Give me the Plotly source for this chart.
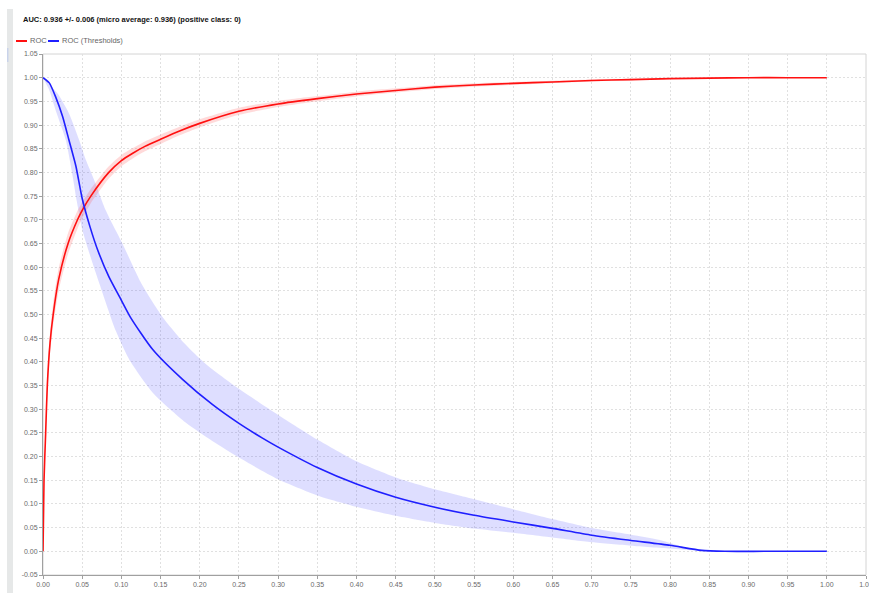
import plotly.graph_objects as go

# ROC curve (false positive rate -> true positive rate) with its spread
roc_fpr = [0, 0.0013, 0.0034, 0.0055, 0.009, 0.013, 0.02, 0.032, 0.044, 0.05, 0.061,
           0.084, 0.10, 0.114, 0.13, 0.15, 0.175, 0.199, 0.25, 0.30, 0.35, 0.40, 0.45, 0.50,
           0.55, 0.60, 0.65, 0.70, 0.75, 0.80, 0.85, 0.90, 0.95, 1.0]
roc_tpr = [0, 0.15, 0.25, 0.35, 0.44, 0.50, 0.574, 0.65, 0.70, 0.72, 0.75,
           0.80, 0.825, 0.84, 0.855, 0.87, 0.888, 0.903, 0.929, 0.9445, 0.9557, 0.9655, 0.973, 0.98,
           0.9845, 0.988, 0.991, 0.994, 0.996, 0.998, 0.999, 1.0, 1.0, 1.0]
roc_std = [0, 0.006, 0.012, 0.018, 0.022, 0.024, 0.024, 0.022, 0.019, 0.017, 0.015,
           0.013, 0.012, 0.011, 0.0105, 0.01, 0.009, 0.0085, 0.0075, 0.0065, 0.0055, 0.005, 0.0045, 0.004,
           0.0035, 0.003, 0.0025, 0.002, 0.0015, 0.001, 0.0005, 0, 0, 0]

# ROC (Thresholds) curve with its upper / lower spread edges
thr_x = [0, 0.008, 0.016, 0.025, 0.033, 0.042, 0.05, 0.06, 0.07, 0.084, 0.10, 0.112,
         0.14, 0.178, 0.216, 0.25, 0.28, 0.30, 0.35, 0.40, 0.45, 0.50, 0.55, 0.60, 0.65,
         0.70, 0.75, 0.80, 0.84, 0.87, 0.92, 1.0]
thr_y = [1.0, 0.989, 0.96, 0.918, 0.869, 0.813, 0.745, 0.685, 0.635, 0.58, 0.53, 0.493,
         0.426, 0.363, 0.31, 0.27, 0.239, 0.22, 0.177, 0.142, 0.114, 0.093, 0.076, 0.062, 0.0485,
         0.034, 0.023, 0.0127, 0.002, 0.0, 0.0, 0.0]
thr_hi_x = [0, 0.018, 0.033, 0.046, 0.0545, 0.065, 0.08, 0.101, 0.125, 0.152, 0.18, 0.208,
            0.25, 0.30, 0.35, 0.40, 0.45, 0.50, 0.55, 0.60, 0.65, 0.70, 0.75, 0.787, 0.82, 0.85]
thr_hi_y = [1.0, 0.968, 0.925, 0.869, 0.827, 0.785, 0.72, 0.651, 0.567, 0.496, 0.44, 0.395,
            0.343, 0.288, 0.236, 0.190, 0.156, 0.131, 0.110, 0.089, 0.068, 0.049, 0.035, 0.024, 0.008, 0.001]
thr_lo_x = [0, 0.0077, 0.016, 0.029, 0.037, 0.043, 0.05, 0.06, 0.072, 0.093, 0.11, 0.14, 0.182,
            0.216, 0.25, 0.30, 0.35, 0.40, 0.45, 0.50, 0.55, 0.60, 0.65, 0.70, 0.75, 0.80,
            0.83, 0.85]
thr_lo_y = [1.0, 0.975, 0.932, 0.869, 0.80, 0.74, 0.68, 0.625, 0.565, 0.465, 0.405, 0.335, 0.272,
            0.233, 0.198, 0.152, 0.118, 0.094, 0.075, 0.06, 0.048, 0.039, 0.029, 0.019, 0.012, 0.006,
            0.002, 0.0]

x_ticks = [i * 0.05 for i in range(22)]
y_ticks = [-0.05 + i * 0.05 for i in range(23)]

title_text = "AUC: 0.936 +/- 0.006 (micro average: 0.936) (positive class: 0)"

RED = "#ff1010"
BLUE = "#1f1fff"
FONT = "Liberation Sans, Arial"

roc_hi = [t + s for t, s in zip(roc_tpr, roc_std)]
roc_lo = [t - s for t, s in zip(roc_tpr, roc_std)]

fig = go.Figure()

# spread bands
fig.add_trace(go.Scatter(
    x=thr_hi_x + thr_lo_x[::-1], y=thr_hi_y + thr_lo_y[::-1],
    fill="toself", fillcolor="rgba(70,70,255,0.18)",
    line=dict(width=0, shape="spline", smoothing=0.6),
    mode="lines", hoverinfo="skip", showlegend=False))
fig.add_trace(go.Scatter(
    x=roc_fpr + roc_fpr[::-1], y=roc_hi + roc_lo[::-1],
    fill="toself", fillcolor="rgba(255,70,70,0.2)",
    line=dict(width=0, shape="spline", smoothing=0.6),
    mode="lines", hoverinfo="skip", showlegend=False))

# curves
fig.add_trace(go.Scatter(x=roc_fpr, y=roc_tpr, mode="lines", name="ROC",
                         line=dict(color=RED, width=1.6, shape="spline", smoothing=0.6)))
fig.add_trace(go.Scatter(x=thr_x, y=thr_y, mode="lines", name="ROC (Thresholds)",
                         line=dict(color=BLUE, width=1.6, shape="spline", smoothing=0.6)))

W, H = 869, 593
ML, MR, MT, MB = 43, 3, 54, 18
PW, PH = W - ML - MR, H - MT - MB


def px(xp):
    return (xp - ML) / PW


def py(yp):
    return (H - MB - yp) / PH


shapes = [
    # plot border
    dict(type="rect", xref="paper", yref="paper", x0=0, x1=1, y0=0, y1=1,
         line=dict(color="#d4d4d4", width=1), layer="below"),
    # side strip of the panel
    dict(type="rect", xref="paper", yref="paper", x0=px(7), x1=px(13), y0=py(593), y1=py(9),
         fillcolor="#e6e8e8", line=dict(width=0), layer="below"),
    dict(type="rect", xref="paper", yref="paper", x0=px(7), x1=px(8.5), y0=py(62), y1=py(48),
         fillcolor="#c9d3ea", line=dict(width=0), layer="below"),
    # legend swatches
    dict(type="line", xref="paper", yref="paper", x0=px(16), x1=px(27), y0=py(41), y1=py(41),
         line=dict(color=RED, width=2)),
    dict(type="line", xref="paper", yref="paper", x0=px(48), x1=px(59), y0=py(41), y1=py(41),
         line=dict(color=BLUE, width=2)),
]

annotations = [
    dict(text="<b>" + title_text + "</b>", xref="paper", yref="paper", x=px(21), y=py(20),
         xanchor="left", yanchor="middle", showarrow=False,
         font=dict(family=FONT, size=7.5, color="#111")),
    dict(text="ROC", xref="paper", yref="paper", x=px(28), y=py(41),
         xanchor="left", yanchor="middle", showarrow=False,
         font=dict(family=FONT, size=7.5, color="#666")),
    dict(text="ROC (Thresholds)", xref="paper", yref="paper", x=px(60), y=py(41),
         xanchor="left", yanchor="middle", showarrow=False,
         font=dict(family=FONT, size=7.5, color="#666")),
]

axis_font = dict(family=FONT, size=7, color="#6a6a6a")
grid = dict(showgrid=True, gridcolor="#e0e0e0", griddash="2px,2px", gridwidth=1,
            zeroline=False, showline=True, linecolor="#a0a0a0", linewidth=1,
            ticks="outside", ticklen=3, tickcolor="#a0a0a0", tickfont=axis_font,
            ticklabeloverflow="allow", automargin=False)

fig.update_layout(
    width=W, height=H,
    margin=dict(l=ML, r=MR, t=MT, b=MB, pad=0, autoexpand=False),
    paper_bgcolor="white", plot_bgcolor="white",
    showlegend=False,
    shapes=shapes, annotations=annotations,
    xaxis=dict(range=[0, 1.05], tickvals=x_ticks, ticktext=[f"{v:.2f}" for v in x_ticks], **grid),
    yaxis=dict(range=[-0.05, 1.05], tickvals=y_ticks, ticktext=[f"{v:.2f}" for v in y_ticks], **grid),
)

fig.write_html("out.html")
